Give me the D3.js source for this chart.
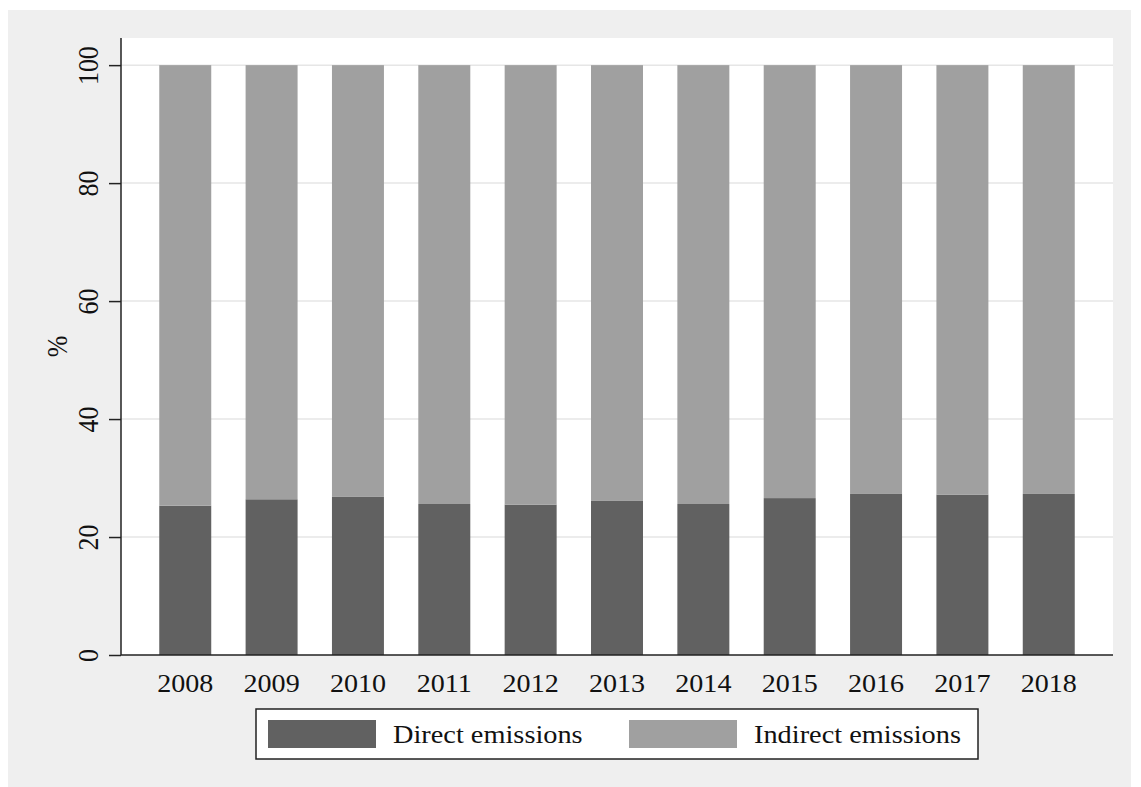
<!DOCTYPE html>
<html>
<head>
<meta charset="utf-8">
<script src="https://cdn.jsdelivr.net/npm/d3@7"></script>
<style>
  html, body { margin: 0; padding: 0; background: #ffffff; }
  svg { display: block; font-family: "Liberation Serif", "DejaVu Serif", serif; }
</style>
</head>
<body>
<svg id="chart" width="1141" height="787"></svg>
<script>
// Daten
const years = ['2008', '2009', '2010', '2011', '2012', '2013', '2014', '2015', '2016', '2017', '2018'];
const directShare = [25.3, 26.4, 26.8, 25.6, 25.5, 26.2, 25.6, 26.6, 27.3, 27.2, 27.3];
const indirectShare = [74.7, 73.6, 73.2, 74.4, 74.5, 73.8, 74.4, 73.4, 72.7, 72.8, 72.7];
const yTicks = [0, 20, 40, 60, 80, 100];
const seriesNames = ['Direct emissions', 'Indirect emissions'];
const seriesColors = ['#616161', '#a0a0a0'];

// Schrift leicht gestreckt wie im Original
const stretch = 1.08;

const svg = d3.select('#chart');

// Hintergrund (Stata-Stil)
svg.append('rect')
    .attr('x', 8).attr('y', 10)
    .attr('width', 1123).attr('height', 777)
    .attr('fill', '#efefef');

const margin = { top: 38, left: 121 };
const width = 992;
const height = 617;

const g = svg.append('g')
    .attr('transform', `translate(${margin.left},${margin.top})`);

// Plotflaeche
g.append('rect')
    .attr('width', width)
    .attr('height', height)
    .attr('fill', '#ffffff');

// Skalen
const xScale = d3.scaleBand()
    .domain(years)
    .range([0, width])
    .paddingInner(0.398)
    .paddingOuter(0.443);

const yScale = d3.scaleLinear()
    .domain([0, 104.6])
    .range([height, 0]);

// Gitterlinien
g.selectAll('.grid')
    .data(yTicks.filter(d => d > 0))
    .enter()
    .append('line')
    .attr('x1', 0)
    .attr('x2', width)
    .attr('y1', d => yScale(d))
    .attr('y2', d => yScale(d))
    .style('stroke', '#e6e6e6')
    .style('stroke-width', 1.5);

// Gestapelte Balken
const stacked = years.map((y, i) => ({ year: y, direct: directShare[i], indirect: indirectShare[i] }));

g.selectAll('.bar-direct')
    .data(stacked)
    .enter()
    .append('rect')
    .attr('x', d => xScale(d.year))
    .attr('y', d => yScale(d.direct))
    .attr('width', xScale.bandwidth())
    .attr('height', d => yScale(0) - yScale(d.direct))
    .attr('fill', seriesColors[0]);

g.selectAll('.bar-indirect')
    .data(stacked)
    .enter()
    .append('rect')
    .attr('x', d => xScale(d.year))
    .attr('y', d => yScale(d.direct + d.indirect))
    .attr('width', xScale.bandwidth())
    .attr('height', d => yScale(d.direct) - yScale(d.direct + d.indirect))
    .attr('fill', seriesColors[1]);

// Y-Achse
const yAxis = g.append('g')
    .call(d3.axisLeft(yScale).tickValues(yTicks).tickSize(12).tickSizeOuter(0));
yAxis.attr('font-family', null);
yAxis.select('.domain').style('stroke', '#222').style('stroke-width', 1.5)
    .attr('d', `M0,${height}V0`);
yAxis.selectAll('.tick line').style('stroke', '#222').style('stroke-width', 1.5);
yAxis.selectAll('.tick text')
    .attr('transform', 'scale(1.12,1) rotate(-90)')
    .attr('x', 0)
    .attr('y', -20.5)
    .attr('dy', 0)
    .style('text-anchor', 'middle')
    .style('font-family', '"Liberation Serif", serif')
    .style('font-size', '26px')
    .style('fill', '#111');

// X-Achse
const xAxis = g.append('g')
    .attr('transform', `translate(0,${height})`)
    .call(d3.axisBottom(xScale).tickSize(0).tickSizeOuter(0));
xAxis.attr('font-family', null);
xAxis.select('.domain').style('stroke', '#222').style('stroke-width', 1.5)
    .attr('d', `M0,0H${width}`);
xAxis.selectAll('.tick text')
    .attr('transform', `scale(${stretch},1)`)
    .attr('y', 37)
    .attr('dy', 0)
    .style('font-family', '"Liberation Serif", serif')
    .style('font-size', '26px')
    .style('fill', '#111');

// Y-Achsen-Label
svg.append('text')
    .attr('transform', `translate(67,${margin.top + height / 2}) scale(1.1,1) rotate(-90)`)
    .attr('text-anchor', 'middle')
    .style('font-size', '26px')
    .style('fill', '#111')
    .text('%');

// Legende
const legend = svg.append('g')
    .attr('transform', 'translate(256,709)');

legend.append('rect')
    .attr('width', 722)
    .attr('height', 50)
    .attr('fill', '#ffffff')
    .style('stroke', '#222')
    .style('stroke-width', 1.5);

const legendItems = [
    { swatch: 12, text: 137 },
    { swatch: 373, text: 498 }
];

legendItems.forEach((item, i) => {
    legend.append('rect')
        .attr('x', item.swatch)
        .attr('y', 11)
        .attr('width', 108)
        .attr('height', 28)
        .attr('fill', seriesColors[i]);
    legend.append('text')
        .attr('transform', `translate(${item.text},34) scale(1.09,1)`)
        .style('font-size', '26px')
        .style('fill', '#111')
        .text(seriesNames[i]);
});
</script>
</body>
</html>
